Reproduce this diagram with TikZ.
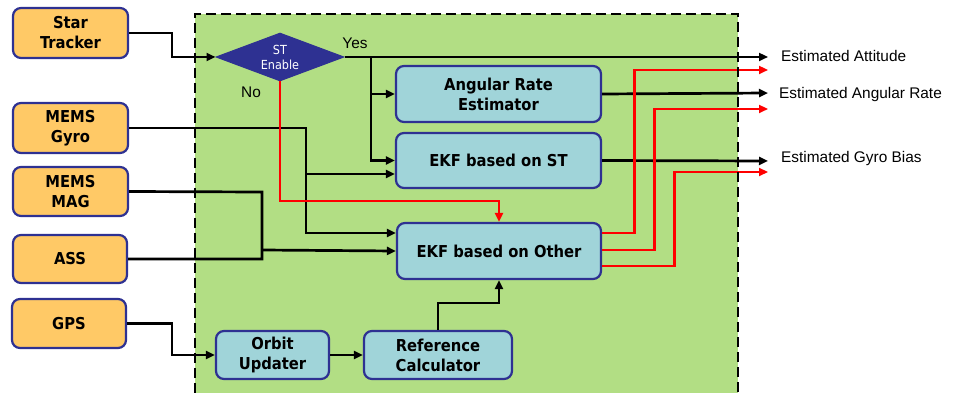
\documentclass[tikz,border=0pt]{standalone}
\usepackage{fontspec}
\setmainfont{Liberation Sans}
\newfontfamily\tahoma{DejaVu Sans Condensed}
\usetikzlibrary{shapes.geometric,arrows.meta,calc}
\definecolor{navy}{RGB}{46,49,146}
\definecolor{boxorange}{RGB}{255,201,102}
\definecolor{boxblue}{RGB}{160,212,217}
\definecolor{bggreen}{RGB}{178,222,132}
\begin{document}
\begin{tikzpicture}[x=1pt,y=-1pt,
  inbox/.style={draw=navy,line width=2.2pt,fill=boxorange,rounded corners=8pt,inner sep=0pt,align=center,
    font=\tahoma\bfseries\fontsize{16.4}{20}\selectfont},
  procbox/.style={inbox,fill=boxblue},
  conn/.style={line width=2.7pt,-{Triangle[length=9pt,width=8pt]}},
  redconn/.style={conn,draw=red,line width=2.8pt},
  plainline/.style={line width=2.7pt},
  outlabel/.style={anchor=west,font=\fontsize{15.4}{18}\selectfont,inner sep=0pt},
  border/.style={line width=2.8pt,dash pattern=on 10pt off 5pt}]
\useasboundingbox (0,0) rectangle (959,393);
\fill[bggreen] (195,14) rectangle (738,393);

% input boxes
\node[inbox,minimum width=115pt,minimum height=50pt] (st) at (70.5,33) {Star\\Tracker};
\node[inbox,minimum width=115pt,minimum height=50pt] (gyro) at (70.5,128) {MEMS\\Gyro};
\node[inbox,minimum width=115pt,minimum height=49pt] (mag) at (70.5,191.5) {MEMS\\MAG};
\node[inbox,minimum width=114pt,minimum height=48pt] (ass) at (70,259) {ASS};
\node[inbox,minimum width=114pt,minimum height=49pt] (gps) at (69,323.5) {GPS};

% decision
\node[diamond,draw=navy,fill=navy,line width=1pt,aspect=2.667,inner sep=0pt,minimum width=128pt,minimum height=48pt,
  text=white,align=center,font=\tahoma\fontsize{12.5}{15}\selectfont] (dia) at (280,57) {ST\\Enable};

% process boxes
\node[procbox,minimum width=205pt,minimum height=56pt] (ar) at (498.5,94) {Angular Rate\\Estimator};
\node[procbox,minimum width=205pt,minimum height=55pt] (ekfst) at (498.5,160.5) {EKF based on ST};
\node[procbox,minimum width=204pt,minimum height=56pt] (ekfo) at (499,251) {EKF based on Other};
\node[procbox,minimum width=113pt,minimum height=48pt] (orbit) at (272.5,355) {Orbit\\Updater};
\node[procbox,minimum width=148pt,minimum height=48pt] (ref) at (438,355) {Reference\\Calculator};

% output ends
\coordinate (o1) at (768,57);
\coordinate (o2) at (768,70);
\coordinate (o3) at (768,93);
\coordinate (o4) at (768,109);
\coordinate (o5) at (768,161);
\coordinate (o6) at (768,172);
\coordinate (yj) at (371,57);
\coordinate (gj) at (306,174);
\coordinate (mj) at (262,250);

% connectors
\draw[conn] (st.east) -- ++(43,0) |- (dia.west);
\draw[conn] (dia.east) -- (o1);
\draw[conn] (yj) |- (ar.west);
\draw[conn] (yj) |- (ekfst.west);
\draw[conn] (gyro.east) -- (306,128) |- ($(ekfo.west)+(0,-18)$);
\draw[conn] (gj) -- ($(ekfst.west)+(0,13.5)$);
\draw[plainline] (mag.east) -- (262,192) -- (262,259) -- (ass.east);
\draw[conn] (mj) -- (ekfo.west);
\draw[redconn] (dia.south) -- (280,201) -| (ekfo.north);
\draw[conn] (ref.north) -- ++(0,-27) -| (ekfo.south);
\draw[conn] (gps.east) -- ++(45,0) |- (orbit.west);
\draw[conn] (orbit.east) -- (ref.west);
\draw[conn] (ar.east) -- (o3);
\draw[conn] (ekfst.east) -- (o5);
\draw[redconn] ($(ekfo.east)+(0,-18)$) -- ++(32,0) |- (o2);
\draw[redconn] ($(ekfo.east)+(0,-1)$) -- ++(52,0) |- (o4);
\draw[redconn] ($(ekfo.east)+(0,15)$) -- ++(72,0) |- (o6);

% labels
\node[font=\fontsize{15.4}{18}\selectfont,inner sep=0pt] (yes) at (355,43) {Yes};
\node[font=\fontsize{15.4}{18}\selectfont,inner sep=0pt] (no) at (251,92) {No};
\node[outlabel] (l1) at (781,56) {Estimated Attitude};
\node[outlabel] (l2) at (779,95) {Estimated Angular Rate};
\node[outlabel] (l3) at (781,159) {Estimated Gyro Bias};

% dashed border
\draw[border] (195,393) -- (195,14) -- (738,14) -- (738,393);
\end{tikzpicture}
\end{document}
